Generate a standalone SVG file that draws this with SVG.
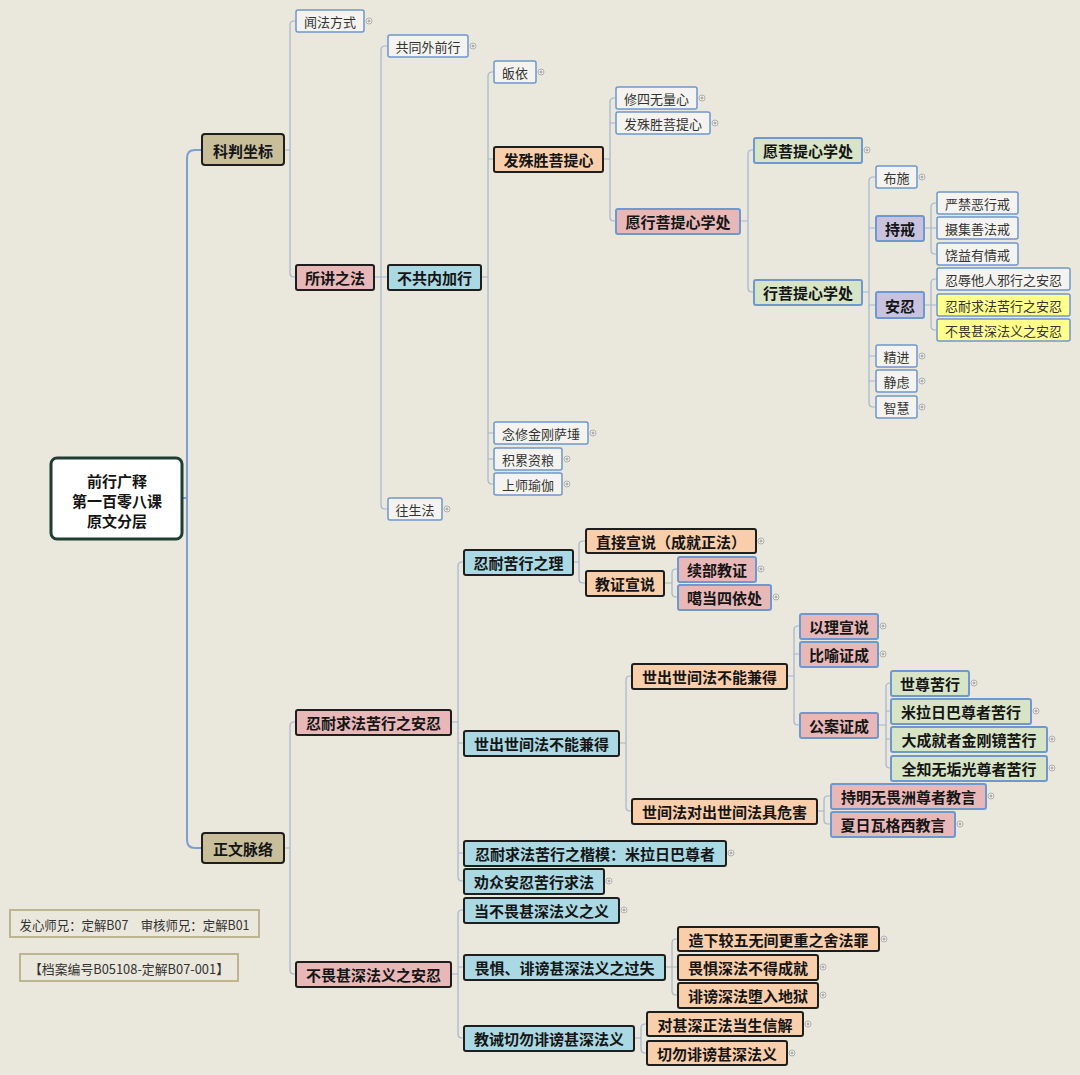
<svg xmlns="http://www.w3.org/2000/svg" xmlns:xlink="http://www.w3.org/1999/xlink" width="1080" height="1075" viewBox="0 0 1080 1075">
<style>
text{font-family:"Noto Sans CJK SC","Noto Sans",sans-serif;text-anchor:middle;dominant-baseline:central}
.s{font-size:13px;fill:#333}
.b{font-size:15px;font-weight:bold;fill:#151515}
.nm{fill:#F4F3EF;stroke:#6E98CF;stroke-width:1.5}
.dk{stroke:#1E1E1E;stroke-width:2}
.bl{stroke:#6E98CF;stroke-width:2}
.tan{fill:#C8BE9A}.pk{fill:#E8B8B9}.cy{fill:#AAD8E3}.pe{fill:#F9CEAB}.gr{fill:#D7E4C5}.lv{fill:#C8C2DF}.yl{fill:#FFFF8C}
.c{fill:none;stroke:#A3B6CE;stroke-width:1.2}
.trunk{fill:none;stroke:#7C9ED0;stroke-width:2}
.ft{fill:none;stroke:#BDB58F;stroke-width:2}
</style>
<defs>
<g id="p"><circle r="3" fill="#F4F3EF" stroke="#A0A0A0" stroke-width="0.8"/><path d="M-1.6 0H1.6M0 -1.6V1.6" stroke="#888" stroke-width="0.8"/></g>
</defs>
<rect width="1080" height="1075" fill="#EAE7DC"/>
<g id="connectors">
<path class="trunk" d="M182 498H187M202 150H195Q187 150 187 158V840Q187 848 195 848H202"/>
<path class="c" d="M284 150H290M296 21H294Q290 21 290 25V273Q290 277 294 277H296"/>
<path class="c" d="M374 277H381M388 46H385Q381 46 381 50V505Q381 509 385 509H388M381 277H388"/>
<path class="c" d="M481 277H488M494 72H492Q488 72 488 76V480Q488 484 492 484H494M488 159H494M488 433H494M488 459H494"/>
<path class="c" d="M603 159H610M616 98H614Q610 98 610 102V217Q610 221 614 221H616M610 123H616"/>
<path class="c" d="M740 221H748M754 150H752Q748 150 748 154V288Q748 292 752 292H754"/>
<path class="c" d="M862 292H869M876 177H873Q869 177 869 181V403Q869 407 873 407H876M869 228H876M869 305H876M869 356H876M869 381H876"/>
<path class="c" d="M924 228H931M937 203H935Q931 203 931 207V250Q931 254 935 254H937M931 228H937"/>
<path class="c" d="M924 305H931M937 279H935Q931 279 931 283V326Q931 330 935 330H937M931 305H937"/>
<path class="c" d="M284 848H290M296 722H294Q290 722 290 726V970Q290 974 294 974H296"/>
<path class="c" d="M451 722H458M464 562H462Q458 562 458 566V877Q458 881 462 881H464M458 743H464M458 853H464"/>
<path class="c" d="M451 974H458M464 910H462Q458 910 458 914V1034Q458 1038 462 1038H464M458 967H464"/>
<path class="c" d="M573 562H579M586 541H583Q579 541 579 545V579Q579 583 583 583H586"/>
<path class="c" d="M664 583H672M678 569H676Q672 569 672 573V593Q672 597 676 597H678"/>
<path class="c" d="M619 743H626M632 676H630Q626 676 626 680V807Q626 811 630 811H632"/>
<path class="c" d="M787 676H794M800 626H798Q794 626 794 630V721Q794 725 798 725H800M794 654H800"/>
<path class="c" d="M878 725H886M891 683H890Q886 683 886 687V764Q886 768 890 768H891M886 711H891M886 739H891"/>
<path class="c" d="M817 811H824M831 796H828Q824 796 824 800V820Q824 824 828 824H831"/>
<path class="c" d="M665 967H672M678 939H676Q672 939 672 943V991Q672 995 676 995H678M672 967H678"/>
<path class="c" d="M634 1038H641M647 1024H645Q641 1024 641 1028V1049Q641 1053 645 1053H647"/>
</g>
<g id="root"><rect x="51" y="458" width="131" height="81" rx="6" fill="#FFFFFF" stroke="#1F3D33" stroke-width="3"/><text class="b" x="117" y="480">前行广释</text><text class="b" x="117" y="500">第一百零八课</text><text class="b" x="117" y="520">原文分层</text></g>
<g id="n-kp"><rect class="tan dk" x="202" y="134" width="82" height="31" rx="3"/><text class="b" x="243" y="150">科判坐标</text></g>
<g id="n-zw"><rect class="tan dk" x="202" y="833" width="82" height="30" rx="3"/><text class="b" x="243" y="848">正文脉络</text></g>
<g id="n-wf"><rect class="nm" x="296" y="10" width="68" height="22" rx="2"/><text class="s" x="330" y="21">闻法方式</text><use href="#p" x="369" y="21"/></g>
<g id="n-sj"><rect class="pk dk" x="296" y="265" width="78" height="25" rx="2"/><text class="b" x="335" y="277">所讲之法</text></g>
<g id="n-gt"><rect class="nm" x="388" y="35" width="80" height="22" rx="2"/><text class="s" x="428" y="46">共同外前行</text><use href="#p" x="473" y="46"/></g>
<g id="n-bg"><rect class="cy dk" x="388" y="265" width="93" height="25" rx="2"/><text class="b" x="434.5" y="277">不共内加行</text></g>
<g id="n-ws"><rect class="nm" x="388" y="498" width="54" height="22" rx="2"/><text class="s" x="415" y="509">往生法</text><use href="#p" x="447" y="509"/></g>
<g id="n-gy"><rect class="nm" x="494" y="61" width="42" height="22" rx="2"/><text class="s" x="515" y="72">皈依</text><use href="#p" x="541" y="72"/></g>
<g id="n-fs"><rect class="pe dk" x="494" y="147" width="109" height="25" rx="2"/><text class="b" x="548.5" y="159">发殊胜菩提心</text></g>
<g id="n-nx"><rect class="nm" x="494" y="422" width="94" height="22" rx="2"/><text class="s" x="541" y="433">念修金刚萨埵</text><use href="#p" x="593" y="433"/></g>
<g id="n-jl"><rect class="nm" x="494" y="448" width="68" height="22" rx="2"/><text class="s" x="528" y="459">积累资粮</text><use href="#p" x="567" y="459"/></g>
<g id="n-ss"><rect class="nm" x="494" y="473" width="68" height="22" rx="2"/><text class="s" x="528" y="484">上师瑜伽</text><use href="#p" x="567" y="484"/></g>
<g id="n-xs"><rect class="nm" x="616" y="87" width="81" height="22" rx="2"/><text class="s" x="656.5" y="98">修四无量心</text><use href="#p" x="702" y="98"/></g>
<g id="n-fs2"><rect class="nm" x="616" y="112" width="94" height="22" rx="2"/><text class="s" x="663" y="123">发殊胜菩提心</text><use href="#p" x="715" y="123"/></g>
<g id="n-yx"><rect class="pk bl" x="616" y="209" width="124" height="25" rx="2"/><text class="b" x="678" y="221">愿行菩提心学处</text></g>
<g id="n-yp"><rect class="gr bl" x="754" y="138" width="108" height="25" rx="2"/><text class="b" x="808" y="150">愿菩提心学处</text><use href="#p" x="867" y="150"/></g>
<g id="n-xp"><rect class="gr bl" x="754" y="280" width="108" height="25" rx="2"/><text class="b" x="808" y="292">行菩提心学处</text></g>
<g id="n-bs"><rect class="nm" x="876" y="166" width="41" height="22" rx="2"/><text class="s" x="896.5" y="177">布施</text><use href="#p" x="922" y="177"/></g>
<g id="n-cj"><rect class="lv bl" x="876" y="216" width="48" height="25" rx="2"/><text class="b" x="900" y="228">持戒</text></g>
<g id="n-ar"><rect class="lv bl" x="876" y="292" width="48" height="26" rx="2"/><text class="b" x="900" y="305">安忍</text></g>
<g id="n-jj"><rect class="nm" x="876" y="345" width="41" height="22" rx="2"/><text class="s" x="896.5" y="356">精进</text><use href="#p" x="922" y="356"/></g>
<g id="n-jl2"><rect class="nm" x="876" y="370" width="41" height="22" rx="2"/><text class="s" x="896.5" y="381">静虑</text><use href="#p" x="922" y="381"/></g>
<g id="n-zh"><rect class="nm" x="876" y="396" width="41" height="22" rx="2"/><text class="s" x="896.5" y="407">智慧</text><use href="#p" x="922" y="407"/></g>
<g id="n-yj"><rect class="nm" x="937" y="192" width="81" height="22" rx="2"/><text class="s" x="977.5" y="203">严禁恶行戒</text></g>
<g id="n-sjs"><rect class="nm" x="937" y="217" width="81" height="22" rx="2"/><text class="s" x="977.5" y="228">摄集善法戒</text></g>
<g id="n-ry"><rect class="nm" x="937" y="243" width="81" height="22" rx="2"/><text class="s" x="977.5" y="254">饶益有情戒</text></g>
<g id="n-rr"><rect class="nm" x="937" y="268" width="133" height="22" rx="2"/><text class="s" x="1003.5" y="279">忍辱他人邪行之安忍</text></g>
<g id="n-rn"><rect class="nm yl" x="937" y="294" width="133" height="22" rx="2"/><text class="s" x="1003.5" y="305">忍耐求法苦行之安忍</text></g>
<g id="n-bw"><rect class="nm yl" x="937" y="319" width="133" height="22" rx="2"/><text class="s" x="1003.5" y="330">不畏甚深法义之安忍</text></g>
<g id="n-rnB"><rect class="pk dk" x="296" y="710" width="155" height="25" rx="2"/><text class="b" x="373.5" y="722">忍耐求法苦行之安忍</text></g>
<g id="n-bwB"><rect class="pk dk" x="296" y="962" width="155" height="25" rx="2"/><text class="b" x="373.5" y="974">不畏甚深法义之安忍</text></g>
<g id="n-rl"><rect class="cy dk" x="464" y="550" width="109" height="25" rx="2"/><text class="b" x="518.5" y="562">忍耐苦行之理</text></g>
<g id="n-sc1"><rect class="cy dk" x="464" y="731" width="155" height="25" rx="2"/><text class="b" x="541.5" y="743">世出世间法不能兼得</text></g>
<g id="n-km"><rect class="cy dk" x="464" y="841" width="262" height="25" rx="2"/><text class="b" x="595" y="853">忍耐求法苦行之楷模：米拉日巴尊者</text><use href="#p" x="731" y="853"/></g>
<g id="n-qz"><rect class="cy dk" x="464" y="869" width="140" height="25" rx="2"/><text class="b" x="534" y="881">劝众安忍苦行求法</text><use href="#p" x="609" y="881"/></g>
<g id="n-db"><rect class="cy dk" x="464" y="898" width="155" height="25" rx="2"/><text class="b" x="541.5" y="910">当不畏甚深法义之义</text><use href="#p" x="624" y="910"/></g>
<g id="n-wj"><rect class="cy dk" x="464" y="955" width="201" height="25" rx="2"/><text class="b" x="564.5" y="967">畏惧、诽谤甚深法义之过失</text></g>
<g id="n-jc"><rect class="cy dk" x="464" y="1026" width="170" height="25" rx="2"/><text class="b" x="549" y="1038">教诫切勿诽谤甚深法义</text></g>
<g id="n-zj"><rect class="pe dk" x="586" y="529" width="170" height="24" rx="2"/><text class="b" x="671" y="541">直接宣说（成就正法）</text><use href="#p" x="761" y="541"/></g>
<g id="n-jz"><rect class="pe dk" x="586" y="571" width="78" height="25" rx="2"/><text class="b" x="625" y="583">教证宣说</text></g>
<g id="n-xb"><rect class="pk bl" x="678" y="557" width="78" height="25" rx="2"/><text class="b" x="717" y="569">续部教证</text><use href="#p" x="761" y="569"/></g>
<g id="n-gd"><rect class="pk bl" x="678" y="585" width="93" height="25" rx="2"/><text class="b" x="724.5" y="597">噶当四依处</text><use href="#p" x="776" y="597"/></g>
<g id="n-sc2"><rect class="pe dk" x="632" y="664" width="155" height="25" rx="2"/><text class="b" x="709.5" y="676">世出世间法不能兼得</text></g>
<g id="n-sjw"><rect class="pe dk" x="632" y="799" width="185" height="25" rx="2"/><text class="b" x="724.5" y="811">世间法对出世间法具危害</text></g>
<g id="n-yl"><rect class="pk bl" x="800" y="614" width="78" height="25" rx="2"/><text class="b" x="839" y="626">以理宣说</text><use href="#p" x="883" y="626"/></g>
<g id="n-by"><rect class="pk bl" x="800" y="642" width="78" height="25" rx="2"/><text class="b" x="839" y="654">比喻证成</text><use href="#p" x="883" y="654"/></g>
<g id="n-ga"><rect class="pk bl" x="800" y="713" width="78" height="25" rx="2"/><text class="b" x="839" y="725">公案证成</text></g>
<g id="n-sz"><rect class="gr bl" x="891" y="671" width="78" height="25" rx="2"/><text class="b" x="930" y="683">世尊苦行</text><use href="#p" x="974" y="683"/></g>
<g id="n-ml"><rect class="gr bl" x="891" y="699" width="140" height="25" rx="2"/><text class="b" x="961" y="711">米拉日巴尊者苦行</text><use href="#p" x="1036" y="711"/></g>
<g id="n-dc"><rect class="gr bl" x="891" y="727" width="156" height="25" rx="2"/><text class="b" x="969" y="739">大成就者金刚镜苦行</text><use href="#p" x="1052" y="739"/></g>
<g id="n-qzw"><rect class="gr bl" x="891" y="756" width="156" height="25" rx="2"/><text class="b" x="969" y="768">全知无垢光尊者苦行</text><use href="#p" x="1052" y="768"/></g>
<g id="n-cm"><rect class="pk bl" x="831" y="784" width="155" height="25" rx="2"/><text class="b" x="908.5" y="796">持明无畏洲尊者教言</text><use href="#p" x="991" y="796"/></g>
<g id="n-xr"><rect class="pk bl" x="831" y="812" width="124" height="25" rx="2"/><text class="b" x="893" y="824">夏日瓦格西教言</text><use href="#p" x="960" y="824"/></g>
<g id="n-zx"><rect class="pe dk" x="678" y="927" width="201" height="24" rx="2"/><text class="b" x="778.5" y="939">造下较五无间更重之舍法罪</text><use href="#p" x="884" y="939"/></g>
<g id="n-wjs"><rect class="pe dk" x="678" y="955" width="140" height="25" rx="2"/><text class="b" x="748" y="967">畏惧深法不得成就</text><use href="#p" x="823" y="967"/></g>
<g id="n-fb"><rect class="pe dk" x="678" y="983" width="140" height="25" rx="2"/><text class="b" x="748" y="995">诽谤深法堕入地狱</text><use href="#p" x="823" y="995"/></g>
<g id="n-ds"><rect class="pe dk" x="647" y="1012" width="156" height="24" rx="2"/><text class="b" x="725" y="1024">对甚深正法当生信解</text><use href="#p" x="808" y="1024"/></g>
<g id="n-qw"><rect class="pe dk" x="647" y="1041" width="140" height="24" rx="2"/><text class="b" x="717" y="1053">切勿诽谤甚深法义</text><use href="#p" x="792" y="1053"/></g>
<g id="footer1"><rect class="ft" x="10" y="910" width="249" height="27"/><text class="s" x="134.5" y="924" textLength="230" lengthAdjust="spacingAndGlyphs">发心师兄：定解B07　审核师兄：定解B01</text></g>
<g id="footer2"><rect class="ft" x="20" y="954" width="218" height="27"/><text class="s" x="129" y="968" textLength="200" lengthAdjust="spacingAndGlyphs">【档案编号B05108-定解B07-001】</text></g>
</svg>
